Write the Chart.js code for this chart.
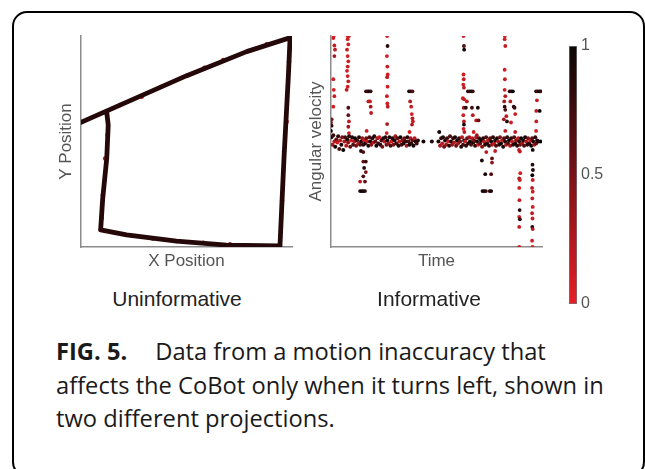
<!DOCTYPE html>
<html>
<head>
<meta charset="utf-8">
<script src="https://cdn.jsdelivr.net/npm/chart.js@4.4.1/dist/chart.umd.min.js"></script>
<style>
  body { margin: 0; width: 645px; height: 469px; overflow: hidden; background: #fff; position: relative; font-family: "Liberation Sans", Arial, sans-serif; }
  .frame { position: absolute; left: 12px; top: 11px; width: 629px; height: 462px; border: 2.5px solid #000; border-radius: 15px; }
  canvas { position: absolute; }
  .panel-title { position: absolute; top: 298px; font-size: 21px; color: #222; transform: translate(-50%, -50%); white-space: nowrap; line-height: 1; }
  .caption { position: absolute; left: 56px; top: 335px; font-family: "Open Sans", sans-serif; font-size: 23.7px; line-height: 33.6px; color: #1a1a1a; white-space: nowrap; }
  .caption b { margin-right: 28px; }
</style>
</head>
<body>
<div class="frame"></div>
<canvas id="trajectory" width="262" height="256" style="left:40px; top:26px;"></canvas>
<canvas id="angular" width="262" height="256" style="left:290px; top:26px;"></canvas>
<canvas id="colorbar" width="70" height="290" style="left:555px; top:30px;"></canvas>
<div class="panel-title" style="left:177px;">Uninformative</div>
<div class="panel-title" style="left:429px;">Informative</div>
<div class="caption"><b>FIG. 5.</b>Data from a motion inaccuracy that<br>affects the CoBot only when it turns left, shown in<br>two different projections.</div>

<script>
// colour scale: 0 = bright red, 1 = black
var lowColor = [232, 30, 38];
var highColor = [10, 6, 6];
var colorbarTicks = [0, 0.5, 1];

// robot path in X/Y (corners of the loop)
var pathX = [0, 50.1, 78.5, 99.1, 98.3, 96.2, 94.3, 69, 45.3, 21.6, 9.3, 10.3, 12.2, 12.9, 12.2];
var pathY = [59.1, 81.2, 92.6, 99.2, 81.5, 42, 0.5, 0.9, 2.8, 5.7, 8.1, 23.1, 42, 57.8, 63.8];

// lighter samples sitting on the path
var speckX = [12.2, 18.5, 28.8, 38.0, 50.1, 58.5, 67.4, 88.0, 99.1, 98.6, 97.5, 96.2, 95.3, 94.3, 82.0, 70.6, 58.0, 45.3, 34.0, 24, 9.3, 9.8, 10.3, 11.4, 12.5];
var speckY = [63.8, 67.3, 71.2, 75.9, 81.2, 85.0, 88.6, 96.1, 99.2, 88.0, 59.4, 45.2, 22.0, 0.5, 0.4, 1.3, 2.0, 2.8, 4.0, 5.4, 8.1, 13.6, 24.6, 42, 53.1];
var speckWeight = [0.1, 0.2, 0.15, 0.3, 0.25, 0.2, 0.2, 0.3, 0.1, 0.35, 0.15, 0.2, 0.3, 0.1, 0.3, 0.3, 0.25, 0.2, 0.3, 0.15, 0.1, 0.2, 0.25, 0.2, 0.15];

// angular velocity while driving straight
var baseTime = [
  0.2, 0.7, 1.1, 1.6, 2.0, 2.5, 3.0, 3.4, 3.9, 4.3,
  4.9, 5.3, 5.8, 6.3, 6.7, 7.2, 7.7, 8.1, 8.6, 9.1,
  9.5, 10.0, 10.5, 11.0, 11.4, 11.9, 12.4, 12.9, 13.3, 13.8,
  14.3, 14.8, 15.3, 15.7, 16.2, 16.7, 17.2, 17.7, 18.2, 18.6,
  19.1, 19.6, 20.1, 20.5, 21.0, 21.5, 22.0, 22.4, 22.9, 23.4,
  23.9, 24.3, 24.8, 25.3, 25.8, 26.3, 26.7, 27.2, 27.7, 28.2,
  28.6, 29.1, 29.6, 30.1, 30.5, 31.0, 31.5, 32.0, 32.4, 32.9,
  33.4, 33.9, 34.3, 34.8, 35.3, 35.8, 36.2, 36.7, 37.2, 37.7,
  38.1, 38.6, 39.1, 39.6, 40.1, 40.6, 41.2, 43.8, 47.8, 50.9,
  51.3, 51.7, 52.2, 52.7, 53.1, 53.6, 54.1, 54.6, 55.0, 55.5,
  56.0, 56.4, 56.9, 57.4, 57.9, 58.3, 58.8, 59.3, 59.8, 60.2,
  60.7, 61.2, 61.7, 62.1, 62.6, 63.1, 63.6, 64.0, 64.5, 65.0,
  65.5, 65.9, 66.4, 66.9, 67.4, 67.8, 68.3, 68.8, 69.2, 69.7,
  70.2, 70.7, 71.1, 71.6, 72.1, 72.5, 73.0, 73.5, 74.0, 74.4,
  74.9, 75.4, 75.9, 76.3, 76.8, 77.3, 77.8, 78.2, 78.7, 79.2,
  79.7, 80.1, 80.6, 81.1, 81.6, 82.0, 82.5, 83.0, 83.5, 83.9,
  84.4, 84.9, 85.4, 85.8, 86.3, 86.8, 87.3, 87.7, 88.2, 88.7,
  89.2, 89.6, 90.1, 90.6, 91.1, 91.5, 92.0, 92.5, 93.0, 93.4,
  93.9, 94.4, 94.9, 95.3, 95.8, 96.3, 96.8, 97.2, 97.7, 98.2,
  99.3
];
var baseVel = [
  0.04, -0.03, 0.06, 0.00, -0.05, 0.02, -0.01, 0.05, -0.07, 0.01,
  -0.03, 0.04, -0.08, 0.00, 0.04, -0.04, 0.02, -0.01, 0.05, -0.05,
  0.01, 0.04, -0.03, 0.00, 0.03, -0.04, 0.01, -0.02, 0.04, -0.03,
  0.00, 0.03, -0.03, 0.01, -0.02, 0.03, 0.00, -0.04, 0.04, 0.00,
  -0.03, 0.03, -0.01, 0.05, 0.00, -0.04, 0.03, -0.02, 0.04, -0.03,
  0.01, -0.05, 0.03, 0.00, 0.04, -0.03, 0.01, -0.02, 0.04, -0.04,
  0.00, 0.03, -0.03, 0.01, 0.05, -0.02, 0.03, -0.04, 0.00, 0.04,
  -0.03, 0.01, -0.02, 0.03, 0.00, -0.04, 0.04, 0.00, -0.03, 0.03,
  -0.02, 0.01, -0.04, 0.03, 0.00, -0.02, 0.01, 0.00, 0.00, 0.00,
  0.09, -0.04, 0.03, -0.02, 0.04, -0.05, 0.01, -0.03, 0.03, 0.00,
  -0.04, 0.05, 0.00, -0.03, 0.03, -0.01, 0.04, -0.04, 0.01, -0.02,
  0.03, 0.00, -0.05, 0.04, -0.03, 0.01, 0.00, -0.04, 0.03, -0.02,
  0.04, 0.00, -0.03, 0.03, -0.01, 0.01, -0.04, 0.04, 0.00, -0.03,
  0.03, -0.02, 0.01, -0.05, 0.03, 0.00, -0.03, 0.04, -0.02, 0.01,
  -0.04, 0.03, 0.00, -0.03, 0.04, -0.02, 0.01, -0.04, 0.03, 0.00,
  -0.03, 0.04, -0.02, 0.01, -0.05, 0.03, 0.00, -0.03, 0.04, -0.02,
  0.01, -0.04, 0.03, 0.00, -0.03, 0.04, -0.02, 0.01, -0.04, 0.03,
  0.00, -0.03, 0.03, -0.02, 0.01, -0.04, 0.04, 0.00, -0.03, 0.03,
  -0.02, 0.01, -0.04, 0.03, 0.00, -0.03, 0.04, -0.02, 0.01, 0.00,
  0.00
];
var baseWeight = [
  0.9, 0.3, 0.8, 0.2, 0.95, 0.6, 0.15, 0.85, 0.7, 0.25,
  0.9, 0.5, 1.0, 0.3, 0.75, 0.2, 0.95, 0.4, 0.85, 0.6,
  0.1, 0.9, 0.7, 0.3, 1.0, 0.55, 0.8, 0.2, 0.9, 0.65,
  0.95, 0.35, 0.85, 0.1, 0.9, 0.6, 0.2, 0.9, 0.7, 0.95,
  0.4, 0.85, 0.25, 0.9, 0.6, 1.0, 0.3, 0.8, 0.15, 0.9,
  0.7, 0.5, 0.95, 0.2, 0.85, 0.6, 1.0, 0.35, 0.9, 0.75,
  0.1, 0.9, 0.5, 0.95, 0.3, 0.8, 0.65, 0.9, 0.2, 1.0,
  0.7, 0.4, 0.9, 0.55, 0.85, 0.25, 0.9, 0.7, 1.0, 0.3,
  0.85, 0.6, 0.95, 0.2, 0.9, 0.75, 0.9, 0.95, 0.9, 0.9,
  0.95, 0.3, 0.85, 0.2, 0.9, 0.6, 1.0, 0.35, 0.8, 0.15,
  0.9, 0.7, 0.95, 0.4, 0.85, 0.25, 0.9, 0.6, 1.0, 0.3,
  0.85, 0.5, 0.9, 0.2, 0.75, 0.95, 0.1, 0.85, 0.6, 0.9,
  0.35, 1.0, 0.7, 0.2, 0.9, 0.55, 0.85, 0.3, 0.95, 0.15,
  0.8, 0.6, 1.0, 0.4, 0.9, 0.25, 0.85, 0.7, 0.95, 0.2,
  0.9, 0.6, 1.0, 0.35, 0.85, 0.15, 0.9, 0.7, 0.95, 0.3,
  0.85, 0.5, 1.0, 0.2, 0.9, 0.65, 0.9, 0.25, 0.85, 0.6,
  1.0, 0.3, 0.9, 0.15, 0.85, 0.7, 0.95, 0.4, 0.9, 0.2,
  0.85, 0.6, 1.0, 0.3, 0.9, 0.7, 0.95, 0.25, 0.85, 0.5,
  0.9, 0.15, 1.0, 0.65, 0.9, 0.3, 0.85, 0.6, 0.95, 0.9,
  1.0
];

// angular velocity during turns, one line per turn
var turnTime = [
  1.3, 1.1, 1.6, 1.9, 1.6, 1.1, 1.3, 1.6, 1.1, 0.3, 0.0, 0.3, 0.0,
  7.9, 8.5, 7.9, 8.2, 7.6, 7.9, 8.2, 7.9, 7.6, 7.9, 8.2, 7.9, 7.4, 8.2, 8.2, 8.5, 8.2, 8.5,
  14.2, 15.3, 15.3, 16.5, 15.7, 16.5, 15.3, 13.8, 16.1, 13.8, 14.6, 15.3, 16.1,
  16.6, 17.4, 18.0, 18.8, 17.7, 18.5, 18.8, 19.0, 16.9,
  26.6, 26.8, 26.5, 26.7, 26.9, 26.6, 26.8, 26.5, 26.7, 26.9, 26.6, 26.4,
  37.0, 37.8, 38.6, 37.5, 38.0, 38.3, 38.6, 38.8, 38.4, 37.2,
  62.8, 63.0, 63.1, 62.8, 62.9, 62.7, 63.0, 62.5, 63.1, 62.9, 62.7, 63.0, 63.0, 62.8, 63.2,
  64.9, 65.7, 66.5, 67.2, 63.9, 66.8, 64.4, 69.6, 67.2, 68.8, 69.9, 67.6, 69.1,
  73.6, 77.8, 71.5, 76.3, 76.3, 73.1, 75.9, 71.8, 72.6, 73.4, 75.2, 75.9,
  82.4, 82.3, 82.6, 82.3, 82.4, 82.3, 82.6, 82.1, 82.3, 82.6, 83.1, 83.4, 82.6, 81.9,
  84.7, 85.4, 86.2, 85.0, 86.6, 87.0, 87.3, 85.3, 87.3,
  89.1, 89.5, 89.7, 89.2, 89.5, 89.2, 89.3, 89.4, 89.2, 89.5, 89.2, 89.2,
  95.6, 95.5, 95.7, 95.4, 95.6, 95.3, 95.6, 95.4, 95.6, 95.3, 95.5, 95.4, 95.6, 95.3, 95.5,
  97.2, 97.9, 98.7, 99.4, 97.6, 98.9, 97.3, 97.3, 97.2
];
var turnVel = [
  1.0, 0.98, 0.91, 0.87, 0.81, 0.59, 0.49, 0.43, 0.33, 0.21, 0.18, 0.15, 0.10,
  1.0, 1.0, 0.97, 0.92, 0.87, 0.81, 0.76, 0.71, 0.67, 0.62, 0.57, 0.52, 0.49, 0.32, 0.25, 0.19, 0.14, 0.08,
  -0.09, -0.10, -0.19, -0.19, -0.25, -0.29, -0.33, -0.38, -0.38, -0.47, -0.47, -0.47, -0.47,
  0.476, 0.476, 0.476, 0.476, 0.38, 0.38, 0.33, 0.27, 0.10,
  1.0, 0.905, 0.81, 0.71, 0.635, 0.61, 0.52, 0.43, 0.36, 0.33, 0.165, 0.08,
  0.476, 0.476, 0.476, 0.38, 0.33, 0.26, 0.22, 0.19, 0.16, 0.09,
  1.0, 0.905, 0.87, 0.635, 0.59, 0.54, 0.51, 0.41, 0.40, 0.32, 0.25, 0.19, 0.16, 0.12, 0.09,
  0.476, 0.476, 0.476, 0.476, 0.32, 0.32, 0.38, 0.32, 0.25, 0.20, 0.20, 0.09, 0.06,
  -0.10, -0.09, -0.18, -0.16, -0.20, -0.31, -0.31, -0.47, -0.47, -0.47, -0.47, -0.47,
  1.0, 0.97, 0.905, 0.68, 0.59, 0.49, 0.43, 0.38, 0.33, 0.30, 0.24, 0.19, 0.10, 0.21,
  0.476, 0.476, 0.476, 0.38, 0.33, 0.32, 0.26, 0.18, 0.09,
  -0.08, -0.095, -0.30, -0.35, -0.365, -0.44, -0.556, -0.65, -0.714, -0.737, -0.81, -1.0,
  -0.08, -0.22, -0.27, -0.32, -0.365, -0.44, -0.476, -0.54, -0.62, -0.68, -0.73, -0.81, -0.83, -0.94, -1.0,
  0.476, 0.476, 0.476, 0.476, 0.39, 0.29, 0.29, 0.19, 0.10
];
var turnWeight = [
  0.1, 0.1, 0.15, 0.2, 0.3, 0.1, 0.1, 0.15, 0.1, 0.5, 0.3, 0.8, 1.0,
  0.1, 0.15, 0.1, 0.1, 0.15, 0.1, 0.1, 0.15, 0.1, 0.1, 0.15, 0.1, 0.2, 0.7, 0.6, 0.2, 0.3, 0.1,
  0.9, 0.7, 0.6, 0.8, 0.9, 0.5, 0.7, 0.2, 0.6, 0.9, 1.0, 0.95, 0.85,
  0.9, 0.7, 1.0, 0.8, 0.2, 0.15, 0.3, 0.2, 0.1,
  0.1, 0.85, 0.1, 0.15, 0.1, 0.2, 0.1, 0.15, 0.1, 0.2, 0.3, 0.1,
  0.95, 0.8, 0.7, 0.2, 0.15, 0.1, 0.2, 0.15, 0.25, 0.1,
  0.1, 0.7, 0.95, 0.1, 0.15, 0.1, 0.2, 0.1, 0.15, 0.3, 0.1, 0.2, 1.0, 0.1, 0.2,
  0.9, 0.7, 1.0, 0.8, 0.85, 0.75, 0.2, 0.95, 0.2, 0.2, 0.6, 0.1, 0.3,
  0.2, 0.15, 0.9, 0.6, 0.4, 0.95, 0.7, 0.9, 1.0, 0.85, 0.8, 0.95,
  0.1, 0.1, 0.15, 0.1, 0.15, 0.1, 0.2, 0.3, 0.85, 0.7, 0.2, 0.9, 0.15, 0.3,
  0.95, 0.8, 1.0, 0.2, 0.9, 0.75, 0.15, 0.1, 0.2,
  0.1, 0.2, 0.1, 0.3, 0.15, 0.1, 0.15, 0.9, 0.1, 0.85, 0.15, 0.1,
  0.95, 0.85, 0.9, 1.0, 0.15, 0.2, 0.1, 0.15, 0.1, 0.2, 0.1, 0.9, 0.2, 0.1, 0.1,
  0.9, 0.7, 1.0, 0.8, 0.15, 1.0, 0.2, 0.15, 0.1
];

function weightColor(w) {
  var c = lowColor.map(function (lo, i) { return Math.round(lo + (highColor[i] - lo) * w); });
  return "rgb(" + c.join(",") + ")";
}

function toPoints(xs, ys) {
  return xs.map(function (x, i) { return { x: x, y: ys[i] }; });
}

function axis(min, max, title) {
  return {
    type: "linear",
    min: min,
    max: max,
    ticks: { display: false },
    grid: { display: false, drawTicks: false },
    border: { display: true, color: "#8c8c8c", width: 1.5 },
    title: {
      display: true,
      text: title,
      color: "#555",
      font: { family: "Liberation Sans", size: 17 },
      padding: { top: 4, bottom: 4 }
    }
  };
}

var common = {
  responsive: false,
  animation: false,
  layout: { padding: { left: 12.6, right: 10, top: 10, bottom: 6.6 } },
  plugins: { legend: { display: false }, tooltip: { enabled: false } }
};

new Chart("trajectory", {
  type: "scatter",
  data: {
    datasets: [{
      data: toPoints(pathX, pathY),
      showLine: true,
      borderColor: weightColor(0.88),
      borderWidth: 4.8,
      borderJoinStyle: "round",
      borderCapStyle: "round",
      pointRadius: 0
    }, {
      data: toPoints(speckX, speckY),
      backgroundColor: speckWeight.map(weightColor),
      borderWidth: 0,
      pointRadius: 2.2
    }]
  },
  options: Object.assign({}, common, {
    scales: { x: axis(0, 100, "X Position"), y: axis(0, 100, "Y Position") }
  })
});

new Chart("angular", {
  type: "scatter",
  data: {
    datasets: [{
      data: toPoints(baseTime, baseVel),
      backgroundColor: baseWeight.map(weightColor),
      borderWidth: 0,
      pointRadius: 2
    }, {
      data: toPoints(turnTime, turnVel),
      backgroundColor: turnWeight.map(weightColor),
      borderWidth: 0,
      pointRadius: 1.9
    }]
  },
  options: Object.assign({}, common, {
    scales: { x: axis(0, 100, "Time"), y: axis(-1, 1, "Angular velocity") }
  })
});

// colour bar as a single full-height bar with a gradient fill
new Chart("colorbar", {
  type: "bar",
  data: {
    labels: [""],
    datasets: [{
      data: [1],
      backgroundColor: function (ctx) {
        var area = ctx.chart.chartArea;
        if (!area) return weightColor(1);
        var g = ctx.chart.ctx.createLinearGradient(0, area.bottom, 0, area.top);
        g.addColorStop(0, weightColor(0));
        g.addColorStop(1, weightColor(1));
        return g;
      },
      borderColor: "#777",
      borderWidth: 1,
      borderSkipped: false,
      categoryPercentage: 1,
      barPercentage: 1
    }]
  },
  options: {
    responsive: false,
    animation: false,
    layout: { padding: { left: 14, right: 18, top: 16, bottom: 16 } },
    plugins: { legend: { display: false }, tooltip: { enabled: false } },
    scales: {
      x: { display: false },
      y: {
        position: "right",
        min: 0,
        max: 1,
        afterBuildTicks: function (scale) {
          scale.ticks = colorbarTicks.map(function (v) { return { value: v }; });
        },
        afterFit: function (scale) { scale.width = 30; },
        ticks: {
          color: "#555",
          padding: 4,
          font: { family: "Liberation Sans", size: 16 },
          callback: function (v) { return String(v); }
        },
        grid: { display: false, drawTicks: false },
        border: { display: false }
      }
    }
  }
});
</script>
</body>
</html>
